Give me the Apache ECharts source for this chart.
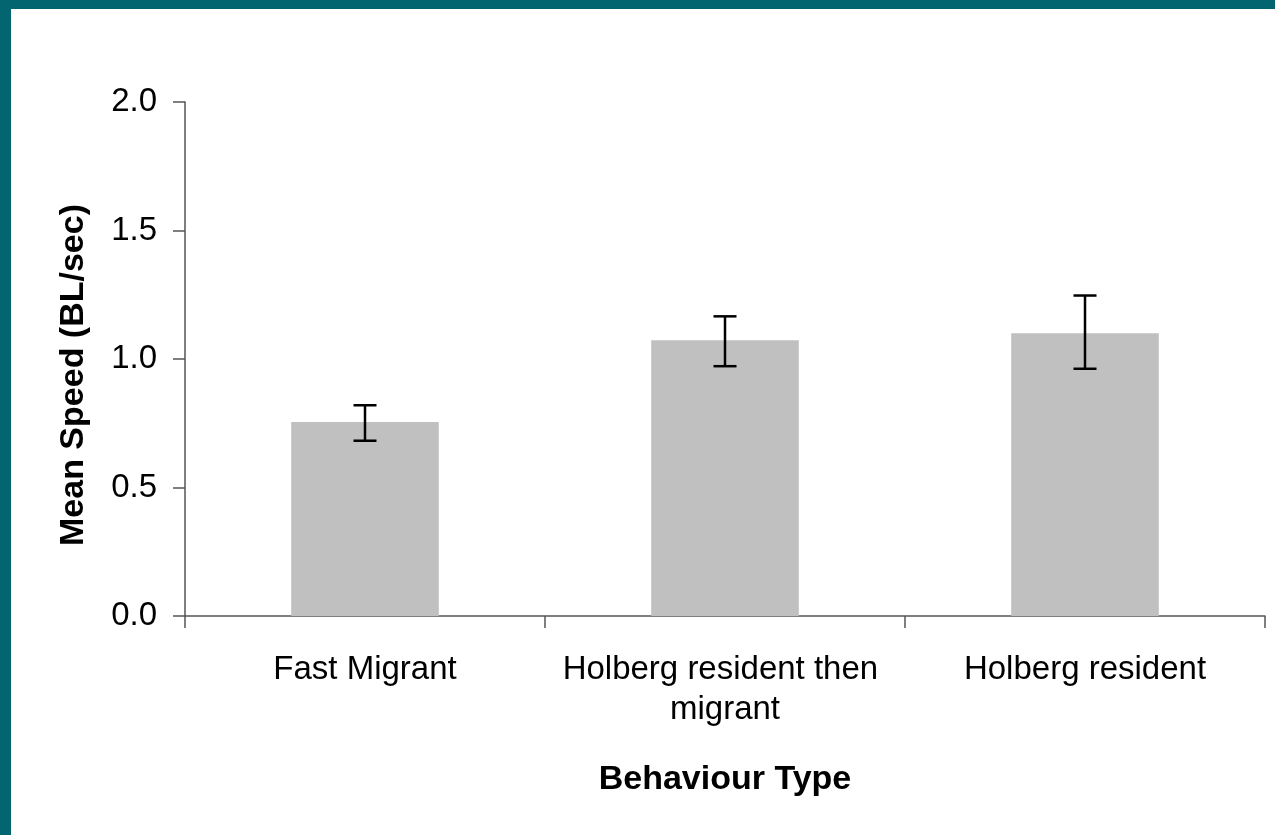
<!DOCTYPE html>
<html>
<head>
<meta charset="utf-8">
<script src="https://cdn.jsdelivr.net/npm/echarts@6/dist/echarts.min.js"></script>
<style>
  html, body { margin: 0; padding: 0; background: #ffffff; }
  #wrap { position: relative; width: 1275px; height: 835px; overflow: hidden; background: #ffffff; }
  #chart { position: absolute; left: 0; top: 0; width: 1275px; height: 835px; }
  .edge { position: absolute; background: #03656f; }
</style>
</head>
<body>
<div id="wrap">
  <div id="chart"></div>
  <div class="edge" style="left:0;top:0;width:1275px;height:9px;"></div>
  <div class="edge" style="left:0;top:0;width:11px;height:835px;"></div>
</div>
<script>
// Behaviour groups and their mean swimming speed (body lengths per second)
const categories = ['Fast Migrant', 'Holberg resident then migrant', 'Holberg resident'];
const meanSpeed = [0.755, 1.073, 1.100];
// Error bar extents for each group
const errLow = [0.682, 0.972, 0.962];
const errHigh = [0.820, 1.166, 1.247];
// Value-axis ticks
const yTicks = [0, 0.5, 1.0, 1.5, 2.0];

const font = '"Liberation Sans", Arial, Helvetica, sans-serif';
const axisColor = '#555555';

const errData = categories.map((c, i) => [i, errLow[i], errHigh[i]]);

const chart = echarts.init(document.getElementById('chart'), null, { renderer: 'canvas' });

chart.setOption({
  backgroundColor: 'transparent',
  animation: false,
  grid: { left: 185, right: 10, top: 102, bottom: 219, containLabel: false },
  xAxis: {
    type: 'category',
    data: categories,
    name: 'Behaviour Type',
    nameLocation: 'middle',
    nameGap: 147,
    nameTextStyle: { fontFamily: font, fontSize: 34, fontWeight: 'bold', color: '#000' },
    axisLine: { show: true, lineStyle: { color: axisColor, width: 1.5 } },
    axisTick: { show: true, length: 12, lineStyle: { color: axisColor, width: 1.5 } },
    axisLabel: {
      fontFamily: font, fontSize: 33, color: '#000', margin: 34,
      lineHeight: 40, width: 345, overflow: 'break', interval: 0
    },
    splitLine: { show: false }
  },
  yAxis: {
    type: 'value',
    min: yTicks[0],
    max: yTicks[yTicks.length - 1],
    interval: 0.5,
    name: 'Mean Speed (BL/sec)',
    nameLocation: 'middle',
    nameGap: 94,
    nameRotate: 90,
    nameTextStyle: { fontFamily: font, fontSize: 34, fontWeight: 'bold', color: '#000', padding: [0, 32, 0, 0] },
    axisLine: { show: true, lineStyle: { color: axisColor, width: 1.5 } },
    axisTick: { show: true, length: 12, lineStyle: { color: axisColor, width: 1.5 } },
    axisLabel: {
      fontFamily: font, fontSize: 33, color: '#000', margin: 28,
      padding: [7, 0, 0, 0],
      formatter: v => v.toFixed(1)
    },
    splitLine: { show: false }
  },
  series: [
    {
      type: 'bar',
      data: meanSpeed,
      barWidth: '41%',
      itemStyle: { color: '#c0c0c0' },
      z: 2
    },
    {
      type: 'custom',
      data: errData,
      z: 5,
      renderItem: function (params, api) {
        const x = api.value(0);
        const lo = api.coord([x, api.value(1)]);
        const hi = api.coord([x, api.value(2)]);
        const half = 11.5;
        const style = { stroke: '#000', lineWidth: 2.5 };
        return {
          type: 'group',
          children: [
            { type: 'line', shape: { x1: hi[0], y1: hi[1], x2: lo[0], y2: lo[1] }, style },
            { type: 'line', shape: { x1: hi[0] - half, y1: hi[1], x2: hi[0] + half, y2: hi[1] }, style },
            { type: 'line', shape: { x1: lo[0] - half, y1: lo[1], x2: lo[0] + half, y2: lo[1] }, style }
          ]
        };
      }
    }
  ]
});
</script>
</body>
</html>
